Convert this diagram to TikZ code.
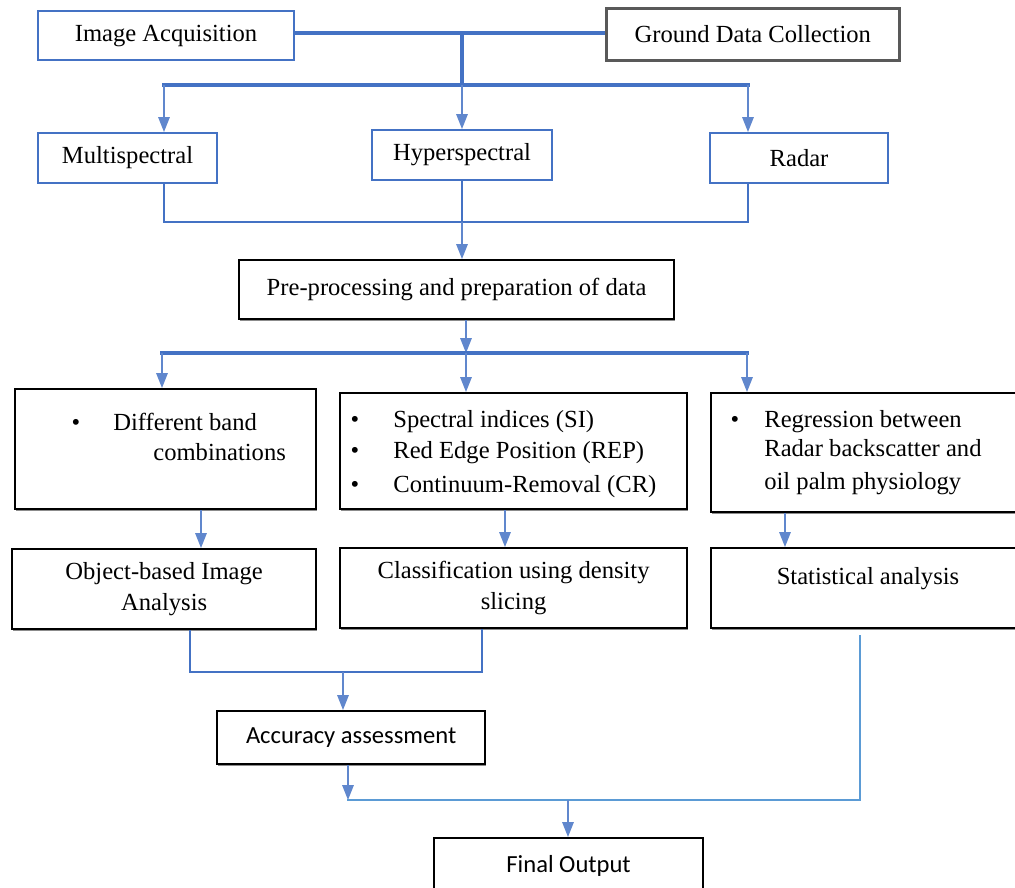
\documentclass[tikz,border=0pt]{standalone}
\usepackage{fontspec}
\setmainfont{Liberation Serif}
\newfontfamily\calib{Carlito}
\usetikzlibrary{arrows.meta,shadows}
\definecolor{lblue}{HTML}{4472C4}
\definecolor{sblue}{HTML}{5B9BD5}
\begin{document}
\begin{tikzpicture}[x=0.02cm,y=-0.02cm,
 every node/.style={font=\fontsize{14}{17.5}\selectfont},
 box/.style={draw=black, line width=1.3pt, fill=white, inner sep=0pt, anchor=north west, align=center,
   drop shadow={shadow xshift=0.3pt, shadow yshift=-1pt, fill=black!45, opacity=1}},
 bbox/.style={draw=lblue, line width=1.2pt, fill=white, inner sep=0pt, anchor=north west, align=center},
 txt/.style={inner sep=0pt, anchor=base west},
 bul/.style={inner sep=0pt, anchor=base},
 thicklink/.style={draw=lblue, line width=1.8pt, line cap=rect},
 link/.style={draw=lblue, line width=1.3pt, line cap=rect},
 slink/.style={draw=sblue, line width=1.5pt, line cap=rect},
 arr/.style={draw=lblue!85, line width=1pt, -{Triangle[width=6.5pt,length=8.5pt]}},
]
\clip (0,0) rectangle (1015,887);
\fill[white] (0,0) rectangle (1015,887);

% top row
\node[bbox, minimum width=5.12cm, minimum height=0.98cm] (ia) at (37,10) {Image Acquisition};
\node[box, draw=black!65, line width=1.5pt, drop shadow={shadow xshift=0pt, shadow yshift=0pt, opacity=0}, minimum width=5.86cm, minimum height=1.04cm] (gdc) at (605,7) {Ground Data Collection};

% sensors
\node[bbox, minimum width=3.58cm, minimum height=1.0cm] (ms) at (37,132) {Multispectral};
\node[bbox, minimum width=3.6cm, minimum height=1.0cm] (hs) at (371,129) {Hyperspectral};
\node[bbox, minimum width=3.56cm, minimum height=1.0cm] (rd) at (709,132) {Radar};

% preprocessing
\node[box, minimum width=8.7cm, minimum height=1.18cm] (pp) at (238,259) {Pre-processing and preparation of data};

% methods
\node[box, minimum width=6.02cm, minimum height=2.4cm] (dbc) at (14,388) {};
\node[box, minimum width=6.94cm, minimum height=2.32cm] (si) at (339,392) {};
\node[box, minimum width=6.4cm, minimum height=2.38cm] (reg) at (710,392) {};

\node[bul] (b1) at (76,430) {•};
\node[txt] (t1) at (113,430) {Different band};
\node[txt] (t2) at (153,460) {combinations};

\node[bul] (b2) at (355,427) {•};
\node[txt] (t3) at (393,427) {Spectral indices (SI)};
\node[bul] (b3) at (355,458) {•};
\node[txt] (t4) at (393,458) {Red Edge Position (REP)};
\node[bul] (b4) at (355,492) {•};
\node[txt] (t5) at (393,492) {Continuum-Removal (CR)};

\node[bul] (b5) at (735,427) {•};
\node[txt] (t6) at (764,427) {Regression between};
\node[txt] (t7) at (764,456) {Radar backscatter and};
\node[txt] (t8) at (764,489) {oil palm physiology};

% analyses
\node[box, minimum width=6.08cm, minimum height=1.6cm] (oba) at (11,548) {Object-based Image\\Analysis};
\node[box, minimum width=6.94cm, minimum height=1.6cm] (cls) at (339,547) {Classification using density\\slicing};
\node[box, minimum width=6.4cm, minimum height=1.6cm] (sa) at (710,547) {};
\node[bul] (t9) at (868,584) {Statistical analysis};

\node[box, font=\calib\fontsize{14}{17}\selectfont, minimum width=5.36cm, minimum height=1.06cm] (acc) at (216,710) {Accuracy assessment};
\node[box, font=\calib\fontsize{14}{17}\selectfont, minimum width=5.38cm, minimum height=1.12cm] (fo) at (433,837) {Final Output};

% connectors top
\coordinate (j0) at (462,33);
\coordinate (j1) at (462,85);
\coordinate (a1) at (164,85);
\coordinate (a3) at (748,85);
\draw[thicklink, line cap=butt] (ia.east |- j0) -- (gdc.west |- j0);
\draw[thicklink] (j0) -- (j1);
\draw[thicklink] (a1) -- (a3);
\draw[arr] (a1) -- (a1 |- ms.north);
\draw[arr] (j1) -- (j1 |- hs.north);
\draw[arr] (a3) -- (a3 |- rd.north);

\coordinate (k1) at (164,222);
\coordinate (k2) at (462,222);
\coordinate (k3) at (748,222);
\draw[link, line cap=butt] (k1 |- ms.south) -- (k1) -- (k3) -- (k3 |- rd.south);
\draw[link, line cap=butt] (k2 |- hs.south) -- (k2);
\draw[arr] (k2) -- (k2 |- pp.north);

% connectors middle
\coordinate (c0) at (466,353);
\coordinate (c1) at (162,353);
\coordinate (c3) at (747,353);
\draw[arr] (c0 |- pp.south) -- (c0);
\draw[thicklink] (c1) -- (c3);
\draw[arr] (c1) -- (c1 |- dbc.north);
\draw[arr] (c0) -- (c0 |- si.north);
\draw[arr] (c3) -- (c3 |- reg.north);

\coordinate (d1) at (201,528);
\coordinate (d2) at (505,528);
\coordinate (d3) at (785,528);
\draw[arr] (d1 |- dbc.south) -- (d1 |- oba.north);
\draw[arr] (d2 |- si.south) -- (d2 |- cls.north);
\draw[arr] (d3 |- reg.south) -- (d3 |- sa.north);

% connectors bottom
\coordinate (e1) at (190,672);
\coordinate (e2) at (482,672);
\coordinate (e0) at (343,672);
\draw[link, line cap=butt] (e1 |- oba.south) -- (e1) -- (e2) -- (e2 |- cls.south);
\draw[arr] (e0) -- (e0 |- acc.north);

\coordinate (f0) at (348,800);
\coordinate (f1) at (860,800);
\coordinate (f2) at (568,800);
\coordinate (g0) at (860,636);
\draw[arr] (f0 |- acc.south) -- (f0);
\draw[slink] (g0) -- (f1) -- (f0);
\draw[arr] (f2) -- (f2 |- fo.north);
\end{tikzpicture}
\end{document}
